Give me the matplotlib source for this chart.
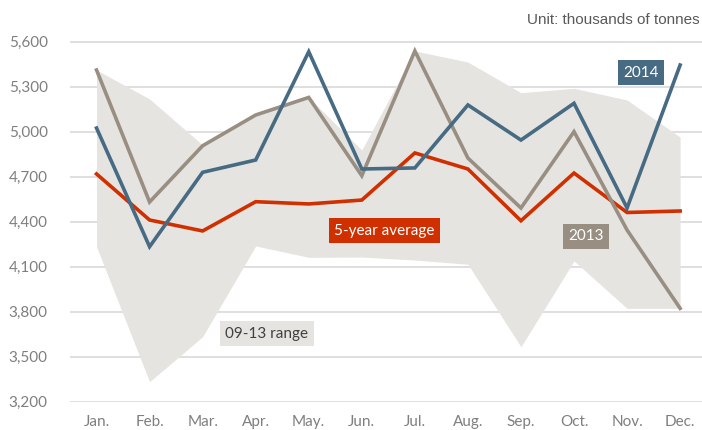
import matplotlib
matplotlib.use('Agg')
import matplotlib.pyplot as plt

months = ['Jan.', 'Feb.', 'Mar.', 'Apr.', 'May.', 'Jun.', 'Jul.', 'Aug.',
          'Sep.', 'Oct.', 'Nov.', 'Dec.']
y2014 = [5023, 4232, 4728, 4810, 5532, 4750, 4757, 5177, 4943, 5188, 4490, 5443]
y2013 = [5410, 4530, 4905, 5110, 5227, 4705, 5537, 4823, 4490, 4999, 4343, 3821]
avg5 = [4717, 4410, 4337, 4532, 4517, 4543, 4857, 4750, 4405, 4723, 4460, 4470]
range_hi = [5410, 5217, 4910, 5110, 5227, 4877, 5537, 5463, 5259, 5288, 5210, 4963]
range_lo = [4232, 3332, 3632, 4237, 4161, 4163, 4143, 4115, 3565, 4137, 3821, 3821]
yticks = [3200, 3500, 3800, 4100, 4400, 4700, 5000, 5300, 5600]

BLUE = '#476b82'
TAUPE = '#998e82'
RED = '#d03000'
FILL = '#e6e4e1'
GRID = '#d9d9d9'
TICK = '#7f7f7f'

plt.rcParams['font.family'] = ['Lato', 'DejaVu Sans']

fig = plt.figure(figsize=(7.02, 4.30), dpi=100)
ax = fig.add_axes([70 / 702, 28.5 / 430, 634 / 702, 360 / 430])

x = list(range(len(months)))
ax.fill_between(x, range_lo, range_hi, color=FILL, lw=0, zorder=2)
ax.plot(x, avg5, color=RED, lw=2.6, zorder=3, solid_joinstyle='miter')
ax.plot(x, y2013, color=TAUPE, lw=2.6, zorder=4, solid_joinstyle='miter')
ax.plot(x, y2014, color=BLUE, lw=2.6, zorder=5, solid_joinstyle='miter')

ax.set_ylim(3200, 5600)
ax.set_xlim(-0.5, 11.45)
ax.set_yticks(yticks)
ax.set_yticklabels(['{:,}'.format(v) for v in yticks])
ax.set_xticks(x)
ax.set_xticklabels(months)
ax.tick_params(axis='both', length=0, colors=TICK, labelsize=11)
ax.tick_params(axis='y', pad=16)
ax.tick_params(axis='x', pad=10)
ax.yaxis.grid(True, color=GRID, lw=1.2, zorder=1)
ax.set_axisbelow(True)
for s in ax.spines.values():
    s.set_visible(False)

def tag(xv, yv, txt, fc, tc='white'):
    ax.text(xv, yv, txt, ha='center', va='center', fontsize=11, color=tc, zorder=6,
            bbox=dict(boxstyle='square,pad=0.35', fc=fc, ec='none'))

tag(10.26, 5393, '2014', BLUE)
tag(9.22, 4300, '2013', TAUPE)
tag(5.43, 4340, '5-year average', RED)
tag(3.21, 3653, '09-13 range', FILL, '#404040')

fig.text(700 / 702, 1 - 20 / 430, 'Unit: thousands of tonnes', ha='right', va='center',
         fontsize=11, color='#595959', family=['Liberation Sans', 'DejaVu Sans'])

fig.savefig('out.png', dpi=100)
